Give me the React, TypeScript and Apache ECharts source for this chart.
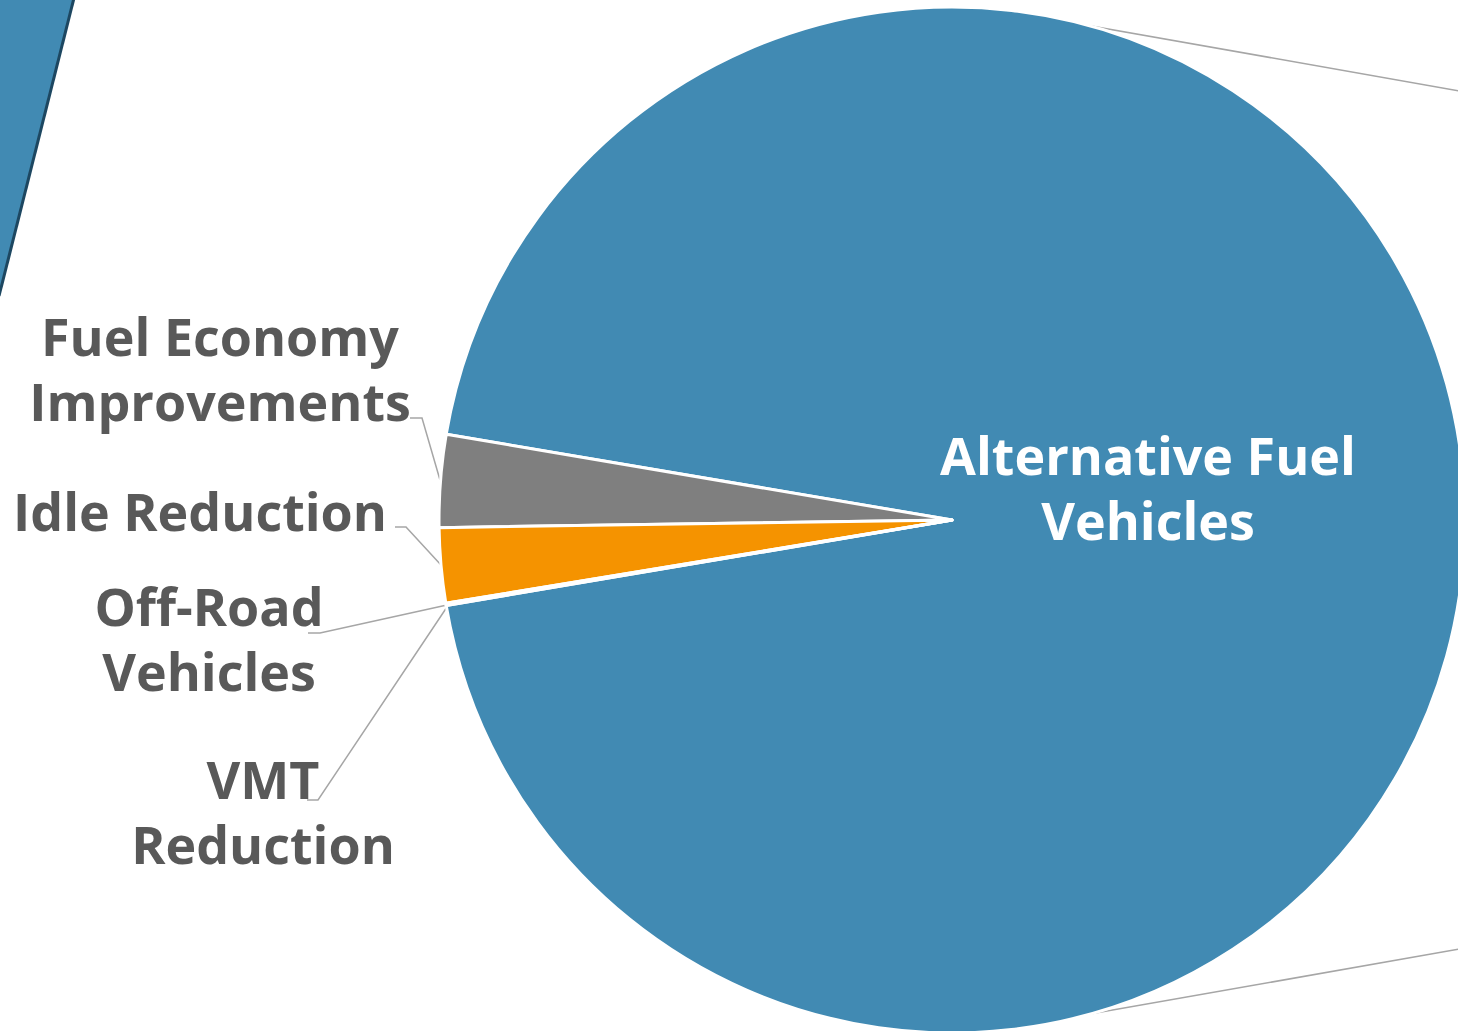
import React, { useEffect, useRef } from 'react';
import * as echarts from 'echarts';

// ---- data ----
const categories = [
  'Alternative Fuel Vehicles',
  'Fuel Economy Improvements',
  'Idle Reduction',
  'Off-Road Vehicles',
  'VMT Reduction',
];
const values = [94.66, 2.91, 2.36, 0.04, 0.03];
const labelTexts = [
  'Alternative Fuel\nVehicles',
  'Fuel Economy\nImprovements',
  'Idle Reduction',
  'Off-Road\nVehicles',
  'VMT\nReduction',
];
const sliceColors = ['#418AB3', '#7F7F7F', '#F59300', '#A5A5A5', '#FFC000'];

// ---- layout (label anchors and leader lines) ----
const labelAnchors: number[][] = [
  [1148, 487],
  [220, 368],
  [200, 510],
  [209, 638],
  [263, 811],
];
const leaderPoints: number[][][] = [
  [],
  [[440, 480], [422, 418], [410, 418]],
  [[441, 565], [406, 527], [395, 527]],
  [[447, 605], [320, 633], [308, 633]],
  [[447, 607], [318, 800], [307, 800]],
];

const FONT = '"Open Sans", "DejaVu Sans", sans-serif';

export default function App() {
  const ref = useRef<HTMLDivElement>(null);
  useEffect(() => {
    document.body.style.margin = '0';
    document.body.style.overflow = 'hidden';
    const chart = echarts.init(ref.current!, null, { renderer: 'svg' });
    chart.setOption({
      animation: false,
      backgroundColor: '#FFFFFF',
      graphic: [
        {
          type: 'polygon',
          z: 0,
          shape: { points: [[0, 0], [73, 0], [0, 293]] },
          style: { fill: '#418AB3' },
        },
        {
          type: 'line',
          z: 0,
          shape: { x1: 74, y1: -2, x2: -1, y2: 296 },
          style: { stroke: '#1D4761', lineWidth: 3 },
        },
        {
          type: 'line',
          z: 0,
          shape: { x1: 1040, y1: 17, x2: 1460, y2: 91 },
          style: { stroke: '#A6A6A6', lineWidth: 1.5 },
        },
        {
          type: 'line',
          z: 0,
          shape: { x1: 1050, y1: 1021, x2: 1460, y2: 949 },
          style: { stroke: '#A6A6A6', lineWidth: 1.5 },
        },
      ],
      series: [
        {
          type: 'pie',
          z: 5,
          center: [952, 520],
          radius: 513,
          startAngle: 189.6,
          clockwise: false,
          silent: true,
          avoidLabelOverlap: false,
          itemStyle: { borderColor: '#FFFFFF', borderWidth: 3 },
          emphasis: { disabled: true },
          label: {
            show: true,
            position: 'outside',
            formatter: (p: any) => labelTexts[p.dataIndex],
            fontFamily: FONT,
            fontWeight: 'bold',
            fontSize: 52,
            lineHeight: 65,
            color: '#595959',
            align: 'center',
          },
          labelLine: {
            show: true,
            smooth: false,
            lineStyle: { color: '#A6A6A6', width: 1.5 },
          },
          labelLayout: (params: any) => {
            const i = params.dataIndex;
            const out: any = {
              x: labelAnchors[i][0],
              y: labelAnchors[i][1],
              align: 'center',
              verticalAlign: 'middle',
              hideOverlap: false,
            };
            if (leaderPoints[i].length) out.labelLinePoints = leaderPoints[i];
            return out;
          },
          data: categories.map((name, i) => ({
            name,
            value: values[i],
            itemStyle: { color: sliceColors[i] },
            label: i === 0 ? { color: '#FFFFFF' } : undefined,
            labelLine: i === 0 ? { show: false } : undefined,
          })),
        },
      ],
    });
    return () => chart.dispose();
  }, []);
  return <div ref={ref} style={{ width: 1458, height: 1031 }} />;
}
